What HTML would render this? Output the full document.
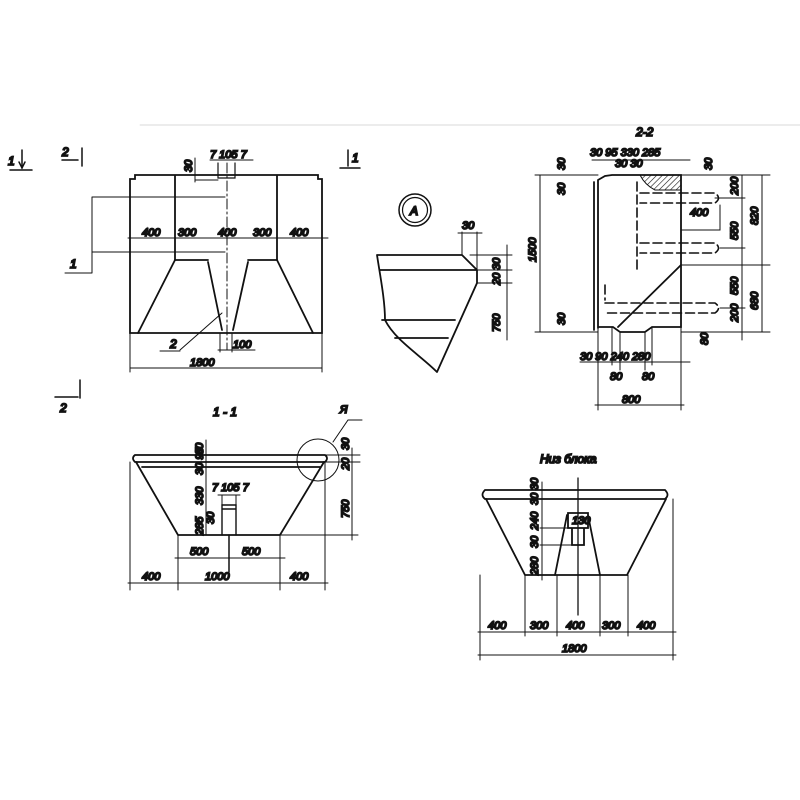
<!DOCTYPE html>
<html><head><meta charset="utf-8"><style>
html,body{margin:0;padding:0;background:#fff;}
svg{display:block;}
text{font-family:"Liberation Sans",sans-serif;font-style:italic;fill:#111;font-size:11px;}
.t{font-size:12px;}
</style></head><body>
<svg width="800" height="800" viewBox="0 0 800 800" xmlns="http://www.w3.org/2000/svg" fill="none" stroke="#111" stroke-width="1.8" stroke-linecap="round">
<defs><pattern id="h" width="4" height="4" patternUnits="userSpaceOnUse" patternTransform="rotate(45)"><line x1="0" y1="0" x2="0" y2="4" stroke="#111" stroke-width="1.2"/></pattern></defs>
<line x1="140" y1="125" x2="800" y2="125" stroke="#ccc" stroke-width="0.8"/>
<!-- section markers -->
<g stroke-width="1.5">
<line x1="10" y1="170" x2="32" y2="170"/><line x1="22" y1="150" x2="22" y2="168"/><path d="M19 162 L22 168 L25 162"/>
<line x1="62" y1="160" x2="78" y2="160"/><line x1="82" y1="148" x2="82" y2="166"/>
<line x1="340" y1="168" x2="360" y2="168"/><line x1="348" y1="150" x2="348" y2="166"/>
<line x1="80" y1="380" x2="80" y2="398"/><line x1="55" y1="397" x2="78" y2="397"/>
</g>
<text x="8" y="165" class="t">1</text><text x="62" y="156" class="t">2</text><text x="352" y="162" class="t">1</text><text x="60" y="412" class="t">2</text>

<!-- plan view -->
<g>
<path d="M135 175 L318 175 L318 179 L322 179 L322 333 L130 333 L130 179 L135 179 Z"/>
<line x1="175" y1="176" x2="175" y2="260"/><line x1="277" y1="176" x2="277" y2="260"/>
<line x1="175" y1="260" x2="208" y2="260"/><line x1="248" y1="260" x2="277" y2="260"/>
<path d="M175 260 L138 333 M208 262 L222 330 M248 262 L233 330 M277 260 L313 333"/>
<path d="M218 163 L218 178 L235 178 L235 163" stroke-width="1.2"/>
<line x1="227" y1="163" x2="227" y2="350" stroke-width="1" stroke-dasharray="10 3 2 3"/>
<g stroke-width="1">
<line x1="128" y1="238" x2="328" y2="238"/>
<line x1="130" y1="368" x2="322" y2="368"/><line x1="130" y1="333" x2="130" y2="372"/><line x1="322" y1="333" x2="322" y2="372"/>
<line x1="220" y1="333" x2="220" y2="352"/><line x1="232" y1="333" x2="232" y2="352"/><line x1="218" y1="350" x2="255" y2="350"/>
<path d="M92 197 L225 197 M92 197 L92 273 M92 252 L225 252 M65 273 L92 273"/>
<path d="M222 313 L180 350 M160 351 L180 351"/>
<path d="M210 160 L253 160 M195 180 L218 180 M195 158 L195 182"/>
</g>
<text x="142" y="236">400</text><text x="178" y="236">300</text><text x="218" y="236">400</text><text x="253" y="236">300</text><text x="290" y="236">400</text>
<text x="190" y="366">1800</text><text x="233" y="348">100</text><text x="210" y="158" font-size="9">7 105 7</text>
<text x="192" y="172" font-size="9" transform="rotate(-90 192 172)">30</text>
<text x="70" y="268" class="t">1</text><text x="170" y="348" class="t">2</text>
</g>

<!-- detail A -->
<circle cx="415" cy="210" r="16" stroke-width="1.5"/><circle cx="415" cy="210" r="12.5" stroke-width="1.2"/>
<text x="410" y="215" class="t">А</text>
<path d="M377 255 L462 255 L477 270 L477 283 L437 372 M380 270 L477 270 M377 255 C380 275 385 300 385 320 C395 340 420 355 437 372 M382 320 L455 320 M395 338 L448 338"/>
<g stroke-width="1"><path d="M462 255 L462 232 M477 270 L477 232 M458 233 L482 233 M470 255 L512 255 M477 270 L512 270 M477 283 L512 283 M507 245 L507 340"/></g>
<text x="462" y="229">30</text>
<text x="500" y="270" font-size="9" transform="rotate(-90 500 270)">30</text>
<text x="500" y="285" font-size="9" transform="rotate(-90 500 285)">20</text>
<text x="500" y="332" transform="rotate(-90 500 332)">750</text>

<!-- section 2-2 -->
<text x="636" y="136" class="t">2-2</text>
<path d="M594 182 L594 330 M598 180 L598 328 M598 180 L605 176 L612 175 L681 175 L681 327 L652 327 L645 332 L620 332 L613 327 L598 327"/>
<path d="M681 265 L618 327"/>
<path d="M640 175 L681 175 L681 190 L655 190 Q645 185 640 175 Z" fill="url(#h)" stroke-width="1"/>
<g stroke-dasharray="9 4" stroke-width="1.6">
<path d="M637 182 L637 270 M640 193 L715 193 Q722 198 715 203 L640 203 M640 243 L715 243 Q722 248 715 253 L640 253 M605 303 L715 303 Q722 308 715 313 L605 313 M605 285 L605 300"/>
</g>
<g stroke-width="1">
<path d="M612 327 L612 365 M620 332 L620 370 M645 332 L645 370 M652 327 L652 365 M681 327 L681 365 M598 327 L598 410 M681 365 L681 410 M595 405 L684 405 M580 362 L690 362"/>
<path d="M535 175 L598 175 M535 332 L598 332 M540 175 L540 332 M681 175 L770 175 M681 265 L770 265 M681 332 L770 332 M742 175 L742 340 M762 175 L762 332 M715 198 L745 198 M720 248 L745 248 M720 308 L745 308"/>
<path d="M592 160 L690 160 M681 230 L720 230 L720 205"/>
</g>
<text x="590" y="156" font-size="9">30 95 330 285</text><text x="615" y="167" font-size="9">30 30</text>
<text x="536" y="262" transform="rotate(-90 536 262)">1500</text>
<text x="565" y="170" font-size="9" transform="rotate(-90 565 170)">30</text>
<text x="565" y="195" font-size="9" transform="rotate(-90 565 195)">30</text>
<text x="565" y="325" font-size="9" transform="rotate(-90 565 325)">30</text>
<text x="712" y="170" font-size="9" transform="rotate(-90 712 170)">30</text>
<text x="738" y="195" transform="rotate(-90 738 195)">200</text>
<text x="738" y="240" transform="rotate(-90 738 240)">550</text>
<text x="738" y="295" transform="rotate(-90 738 295)">550</text>
<text x="738" y="322" transform="rotate(-90 738 322)">200</text>
<text x="758" y="225" transform="rotate(-90 758 225)">820</text>
<text x="758" y="310" transform="rotate(-90 758 310)">680</text>
<text x="708" y="345" font-size="9" transform="rotate(-90 708 345)">80</text>
<text x="690" y="216">400</text>
<text x="580" y="360" font-size="10">30 90 240 280</text>
<text x="610" y="380" font-size="10">80</text><text x="642" y="380" font-size="10">80</text>
<text x="622" y="403">800</text>

<!-- section 1-1 -->
<text x="213" y="416" class="t">1 - 1</text>
<path d="M135 455 L325 455 Q329 458 325 462 L135 462 Q131 458 135 455 Z"/>
<path d="M142 467 L320 467 M136 462 L178 535 L280 535 L324 462"/>
<path d="M222 535 L222 505 L236 505 L236 535 M222 509 L236 509" stroke-width="1.4"/>
<line x1="229" y1="535" x2="229" y2="572" stroke-width="1.5"/>
<circle cx="318" cy="460" r="21" stroke-width="1"/>
<g stroke-width="1"><path d="M333 442 L348 420 L362 420 M318 455 L360 455 M322 462 L360 462 M280 535 L358 535 M352 448 L352 540 M178 535 L178 590 M280 535 L280 590 M130 462 L130 590 M325 462 L325 590 M175 558 L285 558 M128 583 L328 583 M206 440 L206 535 M218 495 L240 495 M222 495 L222 505 M236 495 L236 505"/></g>
<text x="340" y="413" font-size="10">Я</text>
<text x="203" y="455" font-size="8" transform="rotate(-90 203 455)">30</text>
<text x="203" y="475" font-size="8" transform="rotate(-90 203 475)">30 95</text>
<text x="203" y="505" font-size="8" transform="rotate(-90 203 505)">330</text>
<text x="203" y="535" font-size="8" transform="rotate(-90 203 535)">285</text>
<text x="214" y="524" font-size="8" transform="rotate(-90 214 524)">30</text>
<text x="212" y="491" font-size="9">7 105 7</text>
<text x="349" y="450" font-size="9" transform="rotate(-90 349 450)">30</text>
<text x="349" y="470" font-size="9" transform="rotate(-90 349 470)">20</text>
<text x="349" y="518" transform="rotate(-90 349 518)">750</text>
<text x="190" y="555">500</text><text x="242" y="555">500</text>
<text x="142" y="580">400</text><text x="205" y="580">1000</text><text x="290" y="580">400</text>

<!-- Низ блока -->
<text x="540" y="463" class="t">Низ блока</text>
<path d="M485 490 L665 490 Q670 495 665 499 L485 499 Q480 495 485 490 Z"/>
<path d="M486 499 L525 575 L627 575 L666 499"/>
<path d="M567 515 L555 575 M588 515 L600 575 M568 513 L588 513 L588 528 L568 528 Z M572 528 L572 545 L584 545 L584 528"/>
<line x1="578" y1="478" x2="578" y2="615" stroke-width="1.3"/>
<g stroke-width="1"><path d="M480 575 L480 660 M525 575 L525 636 M557 575 L557 636 M600 575 L600 636 M628 575 L628 636 M673 499 L673 660 M478 632 L676 632 M478 655 L676 655 M542 482 L542 580 M540 545 L578 545 M540 528 L568 528"/></g>
<text x="538" y="490" font-size="8" transform="rotate(-90 538 490)">30</text>
<text x="538" y="505" font-size="8" transform="rotate(-90 538 505)">30</text>
<text x="538" y="530" font-size="8" transform="rotate(-90 538 530)">240</text>
<text x="538" y="548" font-size="8" transform="rotate(-90 538 548)">30</text>
<text x="538" y="575" font-size="8" transform="rotate(-90 538 575)">280</text>
<text x="572" y="524" font-size="7">130</text>
<text x="488" y="629">400</text><text x="530" y="629">300</text><text x="566" y="629">400</text><text x="602" y="629">300</text><text x="637" y="629">400</text>
<text x="562" y="652">1800</text>
</svg>
</body></html>
